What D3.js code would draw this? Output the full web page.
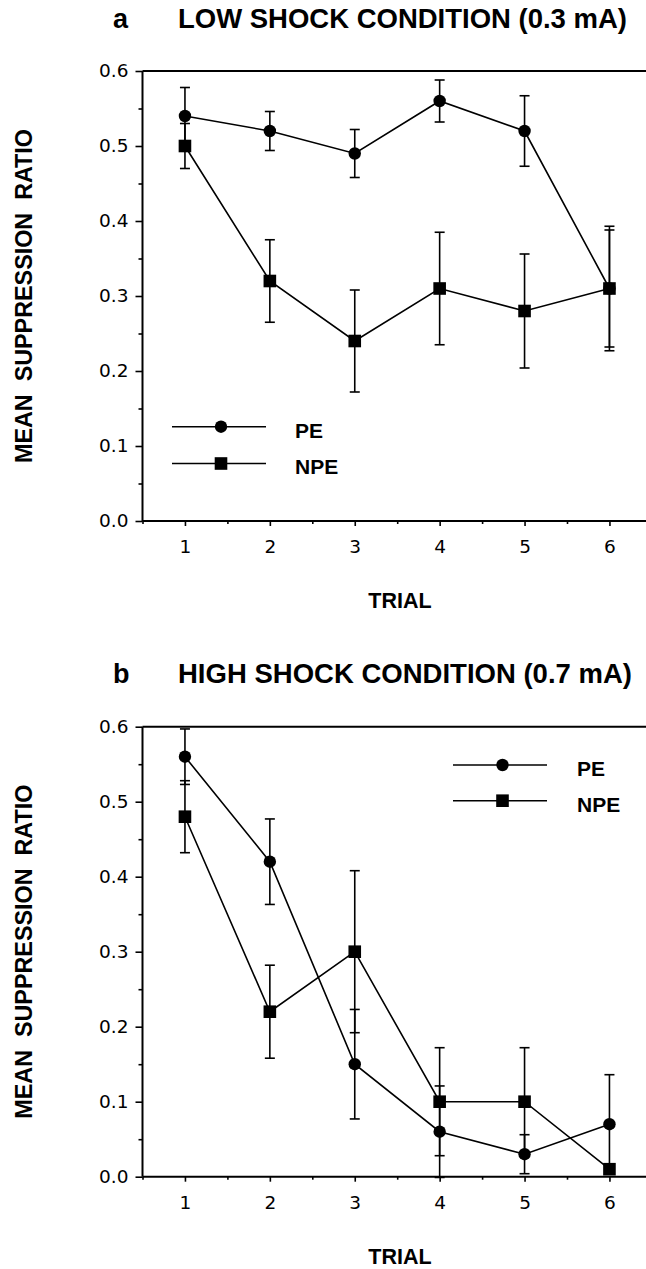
<!DOCTYPE html>
<html>
<head>
    <title>Mean suppression ratio by trial</title>
    <script src="https://d3js.org/d3.v7.min.js"></script>
    <style>
        body {
            margin: 0;
            background: #fff;
        }
        .tick text {
            font-family: "DejaVu Sans", Verdana, sans-serif;
            font-size: 18.5px;
        }
        .bold {
            font-family: "Liberation Sans", Arial, sans-serif;
            font-weight: bold;
        }
    </style>
</head>
<body>
    <div id="chart"></div>
    <script>
        // Data
        const trials = [1, 2, 3, 4, 5, 6];
        const yTicks = [0, 0.1, 0.2, 0.3, 0.4, 0.5, 0.6];
        const seriesNames = ["PE", "NPE"];

        const lowPE = [0.54, 0.52, 0.49, 0.56, 0.52, 0.31];
        const lowPEerr = [0.038, 0.026, 0.032, 0.028, 0.047, 0.083];
        const lowNPE = [0.50, 0.32, 0.24, 0.31, 0.28, 0.31];
        const lowNPEerr = [0.03, 0.055, 0.068, 0.075, 0.076, 0.078];

        const highPE = [0.56, 0.42, 0.15, 0.06, 0.03, 0.07];
        const highPEerr = [0.037, 0.057, 0.073, 0.061, 0.026, 0.066];
        const highNPE = [0.48, 0.22, 0.30, 0.10, 0.10, 0.01];
        const highNPEerr = [0.048, 0.062, 0.108, 0.072, 0.072, 0];

        const width = 646, height = 1269;

        const svg = d3.select('#chart')
            .append('svg')
            .attr('width', width)
            .attr('height', height);

        const x = d3.scaleLinear().domain([0.5, 6.5]).range([142.5, 651.9]);

        const panels = [
            {
                letter: "a", title: "LOW SHOCK CONDITION (0.3 mA)", titleLen: 449,
                top: 71, bottom: 521,
                pe: lowPE, peErr: lowPEerr, npe: lowNPE, npeErr: lowNPEerr,
                legend: {x1: 172, x2: 266, xm: 221, y: 426.7, dy: 36.8, tx: 295}
            },
            {
                letter: "b", title: "HIGH SHOCK CONDITION (0.7 mA)", titleLen: 454,
                top: 726.7, bottom: 1176.7,
                pe: highPE, peErr: highPEerr, npe: highNPE, npeErr: highNPEerr,
                legend: {x1: 453, x2: 547, xm: 502.5, y: 765, dy: 35.7, tx: 577}
            }
        ];

        panels.forEach(p => {
            const y = d3.scaleLinear().domain([0, 0.6]).range([p.bottom, p.top]);
            const g = svg.append('g');

            // titles
            g.append('text').attr('class', 'bold')
                .attr('x', 113).attr('y', p.top - 43.5)
                .style('font-size', '27px')
                .text(p.letter);
            g.append('text').attr('class', 'bold')
                .attr('x', 178).attr('y', p.top - 43.5)
                .style('font-size', '27px')
                .attr('textLength', p.titleLen)
                .attr('lengthAdjust', 'spacingAndGlyphs')
                .text(p.title);

            // y axis title
            g.append('text').attr('class', 'bold')
                .attr('transform', `translate(32,${(p.top + p.bottom) / 2}) rotate(-90)`)
                .attr('text-anchor', 'middle')
                .style('font-size', '23px')
                .style('white-space', 'pre')
                .attr('textLength', 334)
                .attr('lengthAdjust', 'spacingAndGlyphs')
                .text("MEAN  SUPPRESSION  RATIO");

            // x axis title
            g.append('text').attr('class', 'bold')
                .attr('x', 400).attr('y', p.bottom + 87)
                .attr('text-anchor', 'middle')
                .style('font-size', '21.5px')
                .text("TRIAL");

            // minor ticks
            g.append('g')
                .attr('transform', `translate(0,${p.bottom})`)
                .call(d3.axisBottom(x).tickValues([0.5, 1.5, 2.5, 3.5, 4.5, 5.5]).tickSize(3).tickFormat(''))
                .call(a => a.select('.domain').remove());
            g.append('g')
                .attr('transform', `translate(${x(0.5)},0)`)
                .call(d3.axisLeft(y).tickValues([0.05, 0.15, 0.25, 0.35, 0.45, 0.55]).tickSize(4).tickFormat(''))
                .call(a => a.select('.domain').remove());

            // major ticks
            g.append('g')
                .attr('transform', `translate(0,${p.bottom})`)
                .call(d3.axisBottom(x).tickValues(trials).tickFormat(d3.format('d')).tickSize(5).tickPadding(14))
                .call(a => a.select('.domain').remove());
            g.append('g')
                .attr('transform', `translate(${x(0.5)},0)`)
                .call(d3.axisLeft(y).tickValues(yTicks).tickFormat(d3.format('.1f')).tickSize(7).tickPadding(7))
                .call(a => a.select('.domain').remove());
            g.selectAll('.tick line').attr('stroke', '#000').attr('stroke-width', 1.6);
            g.selectAll('.tick text').attr('fill', '#000');

            // frame: left axis, bottom axis, top line
            const frame = g.append('g').attr('stroke', '#000').attr('stroke-width', 2);
            frame.append('line').attr('x1', x(0.5)).attr('x2', x(0.5)).attr('y1', y(0.6)).attr('y2', y(0));
            frame.append('line').attr('x1', x(0.5)).attr('x2', width).attr('y1', y(0)).attr('y2', y(0));
            frame.append('line').attr('x1', x(0.5)).attr('x2', width).attr('y1', y(0.6)).attr('y2', y(0.6));

            const series = [
                {name: seriesNames[0], vals: p.pe, err: p.peErr, shape: 'circle'},
                {name: seriesNames[1], vals: p.npe, err: p.npeErr, shape: 'square'}
            ];

            const line = d3.line().x((d, i) => x(trials[i])).y(d => y(d));
            const cap = 5;

            series.forEach(s => {
                const eg = g.append('g').attr('stroke', '#000').attr('stroke-width', 1.6);
                s.vals.forEach((v, i) => {
                    if (s.err[i] <= 0) return;
                    const cx = x(trials[i]);
                    const hi = y(v + s.err[i]), lo = y(v - s.err[i]);
                    eg.append('line').attr('x1', cx).attr('x2', cx).attr('y1', hi).attr('y2', lo);
                    eg.append('line').attr('x1', cx - cap).attr('x2', cx + cap).attr('y1', hi).attr('y2', hi);
                    eg.append('line').attr('x1', cx - cap).attr('x2', cx + cap).attr('y1', lo).attr('y2', lo);
                });
                g.append('path')
                    .datum(s.vals)
                    .attr('fill', 'none')
                    .attr('stroke', '#000')
                    .attr('stroke-width', 1.6)
                    .attr('d', line);
            });

            function marker(sel, shape, cx, cy) {
                if (shape === 'circle') {
                    sel.append('circle').attr('cx', cx).attr('cy', cy).attr('r', 6.2).attr('fill', '#000');
                } else {
                    sel.append('rect').attr('x', cx - 6.3).attr('y', cy - 6.3).attr('width', 12.6).attr('height', 12.6).attr('fill', '#000');
                }
            }

            series.forEach(s => {
                s.vals.forEach((v, i) => marker(g, s.shape, x(trials[i]), y(v)));
            });

            // legend
            const L = p.legend;
            series.forEach((s, k) => {
                const ly = L.y + k * L.dy;
                g.append('line').attr('x1', L.x1).attr('x2', L.x2).attr('y1', ly).attr('y2', ly)
                    .attr('stroke', '#000').attr('stroke-width', 1.6);
                marker(g, s.shape, L.xm, ly);
                g.append('text').attr('class', 'bold')
                    .attr('x', L.tx).attr('y', ly + 10.8)
                    .style('font-size', '21px')
                    .text(s.name);
            });
        });
    </script>
</body>
</html>
